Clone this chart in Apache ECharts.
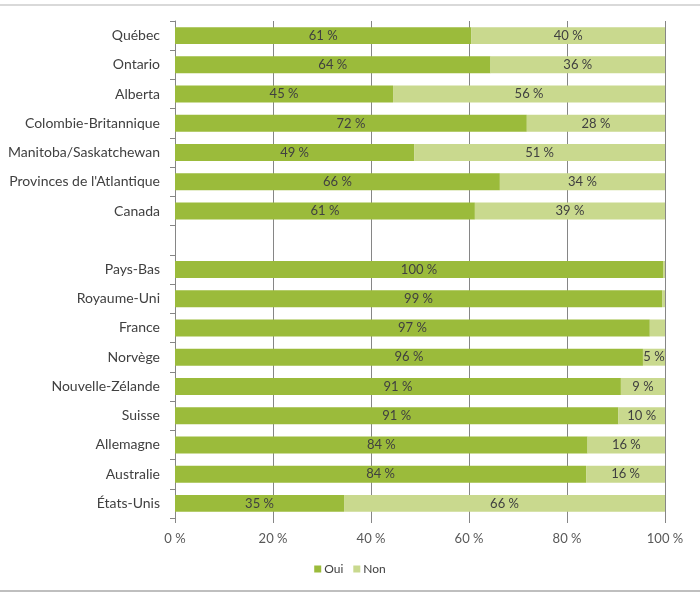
<!DOCTYPE html>
<html>
<head>
<meta charset="utf-8">
<script src="https://cdn.jsdelivr.net/npm/echarts@6/dist/echarts.min.js"></script>
<style>
  html, body { margin: 0; padding: 0; background: #fff; }
  #main { width: 700px; height: 593px; }
</style>
</head>
<body>
<div id="main"></div>
<script>
// catégories, de haut en bas
const categories = ['Québec', 'Ontario', 'Alberta', 'Colombie-Britannique', 'Manitoba/Saskatchewan',
  "Provinces de l'Atlantique", 'Canada', '', 'Pays-Bas', 'Royaume-Uni', 'France', 'Norvège',
  'Nouvelle-Zélande', 'Suisse', 'Allemagne', 'Australie', 'États-Unis']
const oui = [60.5, 64.4, 44.5, 71.8, 48.8, 66.3, 61.2, null, 99.6, 99.4, 96.9, 95.5, 91.0, 90.5, 84.2, 83.9, 34.5]
const non = [39.5, 35.6, 55.5, 28.2, 51.2, 33.7, 38.8, null, 0.4, 0.6, 3.1, 4.5, 9.0, 9.5, 15.8, 16.1, 65.5]
const xTicks = [0, 20, 40, 60, 80, 100]

const font = 'Lato'
const myChart = echarts.init(document.getElementById('main'))

const label = {
  show: true,
  position: 'inside',
  color: '#404040',
  fontFamily: font,
  fontSize: 13,
  formatter: p => (p.value == null || p.value < 4) ? '' : Math.round(p.value) + ' %'
}

myChart.setOption({
  backgroundColor: '#fff',
  animation: false,
  grid: { left: 175, right: 35, top: 21, bottom: 75 },
  legend: {
    bottom: 13,
    left: 'center',
    itemWidth: 7,
    itemHeight: 7,
    itemGap: 10,
    icon: 'rect',
    textStyle: { color: '#404040', fontFamily: font, fontSize: 12, padding: [0, 0, 0, -2] },
    data: ['Oui', 'Non']
  },
  xAxis: {
    type: 'value',
    min: xTicks[0],
    max: xTicks[xTicks.length - 1],
    interval: 20,
    axisLine: { show: false },
    axisTick: { show: true, length: 5, lineStyle: { color: '#868686' } },
    axisLabel: { color: '#595959', fontFamily: font, fontSize: 13, margin: 14, formatter: '{value} %' },
    splitLine: { show: true, lineStyle: { color: '#868686', width: 1 } }
  },
  yAxis: {
    type: 'category',
    inverse: true,
    data: categories,
    axisLine: { show: true, lineStyle: { color: '#868686' } },
    axisTick: { show: true, length: 5, lineStyle: { color: '#868686' } },
    axisLabel: { color: '#404040', fontFamily: font, fontSize: 14, margin: 15 }
  },
  series: [
    {
      name: 'Oui',
      type: 'bar',
      stack: 'total',
      data: oui,
      barCategoryGap: '42%',
      itemStyle: { color: '#9bbb3b' },
      label: label
    },
    {
      name: 'Non',
      type: 'bar',
      stack: 'total',
      data: non,
      itemStyle: { color: '#c9d98e' },
      label: label
    }
  ],
  graphic: [
    { type: 'rect', shape: { x: 0, y: 4, width: 700, height: 2 }, style: { fill: '#d9d9d9' }, silent: true },
    { type: 'rect', shape: { x: 0, y: 590, width: 700, height: 2 }, style: { fill: '#bfbfbf' }, silent: true }
  ]
})
</script>
</body>
</html>
